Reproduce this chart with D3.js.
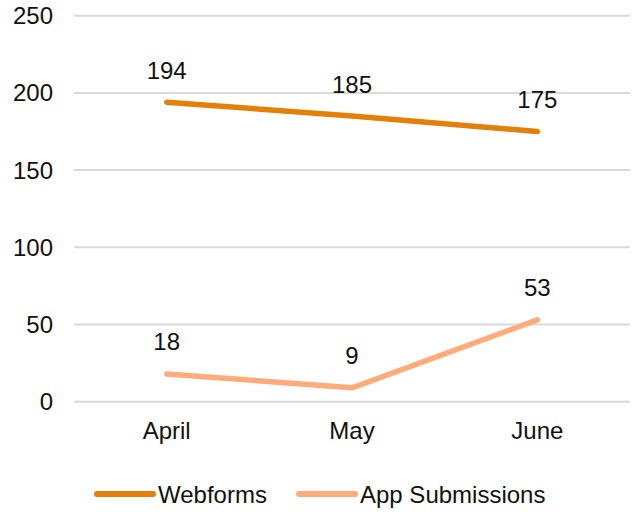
<!DOCTYPE html>
<html>
<head>
    <script src="https://d3js.org/d3.v7.min.js"></script>
    <style>
        body { margin: 0; background: #fff; }
        svg { display: block; }
        text { font-family: "Liberation Sans", Arial, sans-serif; font-size: 24px; fill: #111; }
    </style>
</head>
<body>
    <svg id="chart"></svg>
    <script>
        const width = 640;
        const height = 512;

        // data
        const months = ["April", "May", "June"];
        const webforms = [194, 185, 175];
        const appSubmissions = [18, 9, 53];
        const yTicks = [0, 50, 100, 150, 200, 250];

        const series = [
            { name: "Webforms", values: webforms, color: "#E2800A" },
            { name: "App Submissions", values: appSubmissions, color: "#FFAB7C" }
        ];

        const svg = d3.select("#chart")
            .attr("width", width)
            .attr("height", height);

        const plotLeft = 74, plotRight = 630, plotTop = 15.7, plotBottom = 401.7;

        const x = d3.scaleBand()
            .domain(months)
            .range([plotLeft, plotRight]);

        const y = d3.scaleLinear()
            .domain([0, 250])
            .range([plotBottom, plotTop]);

        // gridlines
        svg.append("g")
            .selectAll("line")
            .data(yTicks)
            .enter().append("line")
            .attr("x1", plotLeft)
            .attr("x2", plotRight)
            .attr("y1", d => y(d))
            .attr("y2", d => y(d))
            .style("stroke", "#d9d9d9")
            .style("stroke-width", 2);

        // y labels
        svg.append("g")
            .selectAll("text")
            .data(yTicks)
            .enter().append("text")
            .attr("x", 53)
            .attr("y", d => y(d) + 8.5)
            .attr("text-anchor", "end")
            .text(d => d);

        // x labels
        svg.append("g")
            .selectAll("text")
            .data(months)
            .enter().append("text")
            .attr("x", d => x(d) + x.bandwidth() / 2)
            .attr("y", 439)
            .attr("text-anchor", "middle")
            .text(d => d);

        const line = d3.line()
            .x((d, i) => x(months[i]) + x.bandwidth() / 2)
            .y(d => y(d));

        series.forEach(s => {
            svg.append("path")
                .attr("d", line(s.values))
                .style("fill", "none")
                .style("stroke", s.color)
                .style("stroke-width", 5.5)
                .style("stroke-linecap", "round")
                .style("stroke-linejoin", "round");

            // data labels
            svg.append("g")
                .selectAll("text")
                .data(s.values)
                .enter().append("text")
                .attr("x", (d, i) => x(months[i]) + x.bandwidth() / 2)
                .attr("y", d => y(d) - 23.5)
                .attr("text-anchor", "middle")
                .text(d => d);
        });

        // legend
        const legendX = [97, 299];
        series.forEach((s, i) => {
            svg.append("line")
                .attr("x1", legendX[i])
                .attr("x2", legendX[i] + 56)
                .attr("y1", 494)
                .attr("y2", 494)
                .style("stroke", s.color)
                .style("stroke-width", 6)
                .style("stroke-linecap", "round");
            svg.append("text")
                .attr("x", legendX[i] + 61)
                .attr("y", 503)
                .text(s.name);
        });
    </script>
</body>
</html>
